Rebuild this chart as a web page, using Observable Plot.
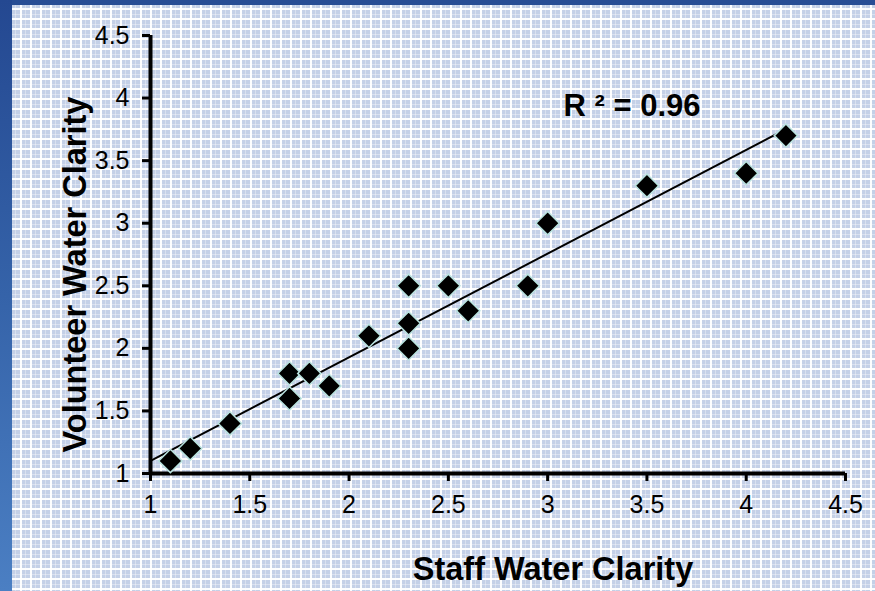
<!DOCTYPE html>
<html>
<head>
<meta charset="utf-8">
<script src="https://cdn.jsdelivr.net/npm/d3@7"></script>
<script src="https://cdn.jsdelivr.net/npm/@observablehq/plot@0.6"></script>
<style>
  html, body { margin: 0; padding: 0; }
  body {
    width: 875px; height: 591px; overflow: hidden; position: relative;
    background-color: #c4d0e7;
    background-image:
      linear-gradient(90deg, rgba(255,255,255,0.95) 2px, transparent 2px),
      linear-gradient(0deg, rgba(255,255,255,0.95) 2px, transparent 2px),
      linear-gradient(90deg, rgba(255,255,255,0.35) 1px, transparent 1px),
      linear-gradient(0deg, rgba(255,255,255,0.35) 1px, transparent 1px);
    background-size: 10px 10px, 10px 10px, 5px 5px, 5px 5px;
    font-family: "Liberation Sans", Arial, sans-serif;
  }
  #band-top { position: absolute; left: 0; top: 0; width: 875px; height: 5px; background: #284d94; }
  #band-left { position: absolute; left: 0; top: 0; width: 12px; height: 591px;
    background: linear-gradient(180deg, #244891 0%, #3563a9 50%, #4b7fc3 100%); }
  #chart { position: absolute; left: 0; top: 0; }
</style>
</head>
<body>
<div id="band-top"></div>
<div id="band-left"></div>
<div id="chart"></div>
<script>
const staff = [1.1, 1.2, 1.4, 1.7, 1.7, 1.8, 1.9, 2.1, 2.3, 2.3, 2.3, 2.5, 2.6, 2.9, 3.0, 3.5, 4.0, 4.2];
const volunteer = [1.1, 1.2, 1.4, 1.8, 1.6, 1.8, 1.7, 2.1, 2.5, 2.2, 2.0, 2.5, 2.3, 2.5, 3.0, 3.3, 3.4, 3.7];
const xTicks = [1, 1.5, 2, 2.5, 3, 3.5, 4, 4.5];
const yTicks = [1, 1.5, 2, 2.5, 3, 3.5, 4, 4.5];
const xTitle = "Staff Water Clarity";
const yTitle = "Volunteer Water Clarity";
const rLabel = "R \u00B2 = 0.96";

const points = staff.map((x, i) => ({x, y: volunteer[i]}));

// least-squares trend line
const mx = d3.mean(staff), my = d3.mean(volunteer);
const sxy = d3.sum(staff, (x, i) => (x - mx) * (volunteer[i] - my));
const sxx = d3.sum(staff, x => (x - mx) ** 2);
const slope = sxy / sxx, intercept = my - slope * mx;
const trendXs = [xTicks[0], d3.max(staff)];
const trend = trendXs.map(x => ({x, y: intercept + slope * x}));

const chart = Plot.plot({
  width: 875,
  height: 591,
  marginLeft: 150,
  marginRight: 30,
  marginTop: 35,
  marginBottom: 118,
  style: {background: "transparent", fontFamily: "'Liberation Sans', Arial, sans-serif", fontSize: "25px", color: "black"},
  x: {domain: [1, 4.5]},
  y: {domain: [1, 4.5]},
  marks: [
    Plot.axisX({ticks: xTicks, tickFormat: d => String(d), tickSize: 8, tickPadding: 14, strokeWidth: 3, fill: "black", label: null}),
    Plot.axisY({ticks: yTicks, tickFormat: d => String(d), tickSize: 8, tickPadding: 13, strokeWidth: 3, fill: "black", label: null}),
    Plot.ruleY([1], {stroke: "black", strokeWidth: 4}),
    Plot.ruleX([1], {stroke: "black", strokeWidth: 4}),
    Plot.line(trend, {x: "x", y: "y", stroke: "black", strokeWidth: 2}),
    Plot.dot(points, {x: "x", y: "y", symbol: "diamond2", r: 10.5, fill: "black", stroke: "#b9e2df", strokeWidth: 1.5}),
    Plot.text([rLabel], {frameAnchor: "top-left", dx: 413, dy: 58, textAnchor: "start", fontSize: 31, fontWeight: "bold", fill: "black"}),
    Plot.text([xTitle], {frameAnchor: "bottom", dx: 55, dy: 106, textAnchor: "middle", fontSize: 32.5, fontWeight: "bold", fill: "black"}),
    Plot.text([yTitle], {frameAnchor: "left", dx: -75, dy: 20, textAnchor: "middle", rotate: -90, fontSize: 32.5, fontWeight: "bold", fill: "black"})
  ]
});
document.getElementById("chart").appendChild(chart);
</script>
</body>
</html>
